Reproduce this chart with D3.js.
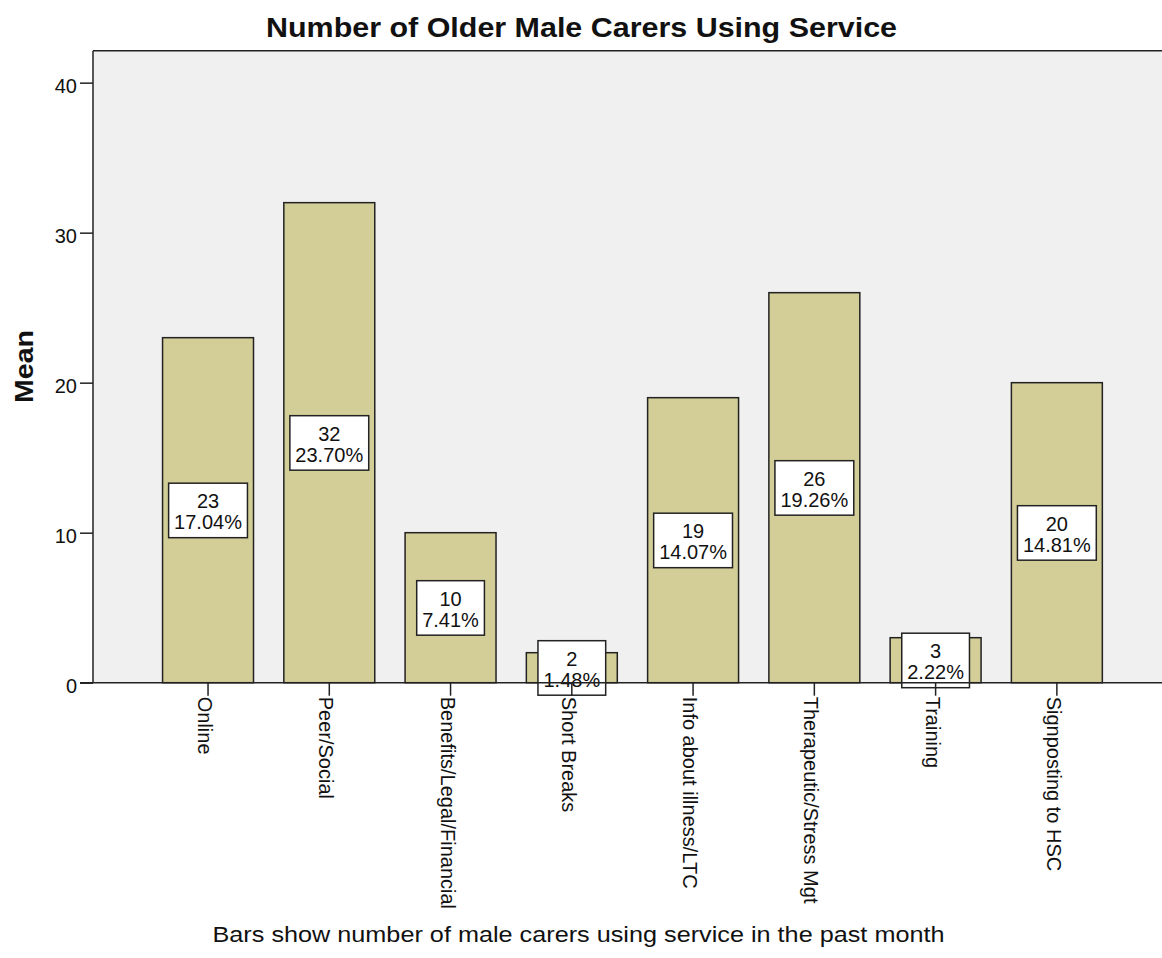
<!DOCTYPE html>
<html>
<head>
<meta charset="utf-8">
<script src="https://cdn.jsdelivr.net/npm/d3@7"></script>
<style>
  html, body { margin: 0; padding: 0; background: #ffffff; }
  svg { display: block; }
  text { font-family: "Liberation Sans", Arial, sans-serif; fill: #111; }
</style>
</head>
<body>
<svg id="chart" width="1162" height="958"></svg>
<script>
// ---- Data ----
const categories = ["Online", "Peer/Social", "Benefits/Legal/Financial", "Short Breaks",
  "Info about illness/LTC", "Therapeutic/Stress Mgt", "Training", "Signposting to HSC"];
const counts = [23, 32, 10, 2, 19, 26, 3, 20];
const yTicks = [0, 10, 20, 30, 40];
const titleText = "Number of Older Male Carers Using Service";
const yLabelText = "Mean";
const captionText = "Bars show number of male carers using service in the past month";

// ---- Layout ----
const svg = d3.select("#chart");
const plotLeft = 93, plotTop = 50.7, plotRight = 1163, plotBottom = 682.7;

const y = d3.scaleLinear().domain([0, 42.13]).range([plotBottom, plotTop]);
const x = d3.scaleBand().domain(categories).range([147.4, 1117.5])
  .paddingInner(0.25).paddingOuter(0.125);

const total = d3.sum(counts);
const data = categories.map((c, i) => ({ cat: c, v: counts[i], pct: (counts[i] / total * 100).toFixed(2) + "%" }));

// plot background
svg.append("rect").attr("x", plotLeft).attr("y", plotTop)
  .attr("width", plotRight - plotLeft).attr("height", plotBottom - plotTop)
  .attr("fill", "#f0f0f0");

// frame: top and left
svg.append("line").attr("x1", plotLeft).attr("x2", plotRight).attr("y1", plotTop).attr("y2", plotTop)
  .attr("stroke", "#222").attr("stroke-width", 1.5);
svg.append("line").attr("x1", plotLeft).attr("x2", plotLeft).attr("y1", plotTop).attr("y2", plotBottom)
  .attr("stroke", "#222").attr("stroke-width", 1.5);

// bars
svg.append("g").selectAll("rect").data(data).join("rect")
  .attr("x", d => x(d.cat)).attr("width", x.bandwidth())
  .attr("y", d => y(d.v)).attr("height", d => y(0) - y(d.v))
  .attr("fill", "#d3ce97").attr("stroke", "#222").attr("stroke-width", 1.5);

// value boxes
const boxG = svg.append("g");
data.forEach(d => {
  const cx = x(d.cat) + x.bandwidth() / 2;
  const cy = y(d.v / 2);
  const g = boxG.append("g");
  const rect = g.append("rect");
  const t1 = g.append("text").attr("x", cx).attr("y", cy - 2).attr("text-anchor", "middle")
    .attr("font-size", 20).text(d.v);
  const t2 = g.append("text").attr("x", cx).attr("y", cy + 19).attr("text-anchor", "middle")
    .attr("font-size", 20).text(d.pct);
  const w = Math.max(t1.node().getComputedTextLength(), t2.node().getComputedTextLength()) + 11;
  rect.attr("x", cx - w / 2).attr("y", cy - 27).attr("width", w).attr("height", 54.5)
    .attr("fill", "#ffffff").attr("stroke", "#222").attr("stroke-width", 1.5);
});

// x axis line (drawn over boxes)
svg.append("line").attr("x1", 80).attr("x2", plotRight).attr("y1", plotBottom).attr("y2", plotBottom)
  .attr("stroke", "#222").attr("stroke-width", 1.5);

// y axis ticks & labels
const yAxis = d3.axisLeft(y).tickValues(yTicks).tickSize(13).tickPadding(3).tickFormat(d3.format("d"));
const gy = svg.append("g").attr("transform", `translate(${plotLeft},0)`).call(yAxis);
gy.select(".domain").remove();
gy.selectAll(".tick line").attr("stroke", "#222").attr("stroke-width", 1.5);
gy.selectAll(".tick text").attr("font-size", 20).attr("font-family", "Liberation Sans, Arial, sans-serif")
  .attr("fill", "#111").attr("dy", null).attr("y", 10);

// x axis ticks & labels
const xAxis = d3.axisBottom(x).tickSize(13).tickSizeOuter(0);
const gx = svg.append("g").attr("transform", `translate(0,${plotBottom})`).call(xAxis);
gx.select(".domain").remove();
gx.selectAll(".tick line").attr("stroke", "#222").attr("stroke-width", 1.5);
gx.selectAll(".tick text")
  .attr("font-size", 20).attr("font-family", "Liberation Sans, Arial, sans-serif").attr("fill", "#111")
  .attr("text-anchor", "start").attr("dy", null)
  .attr("transform", "translate(0,14) rotate(90)")
  .attr("x", 0).attr("y", 10);

// title
svg.append("text").attr("x", 581.5).attr("y", 37).attr("text-anchor", "middle")
  .attr("font-size", 27).attr("font-weight", "bold")
  .attr("textLength", 631).attr("lengthAdjust", "spacingAndGlyphs").text(titleText);

// y label
svg.append("text").attr("transform", "translate(33,366.5) rotate(-90)").attr("text-anchor", "middle")
  .attr("font-size", 26.5).attr("font-weight", "bold")
  .attr("textLength", 73).attr("lengthAdjust", "spacingAndGlyphs").text(yLabelText);

// caption
svg.append("text").attr("x", 578.5).attr("y", 942).attr("text-anchor", "middle")
  .attr("font-size", 22.5)
  .attr("textLength", 732).attr("lengthAdjust", "spacingAndGlyphs").text(captionText);
</script>
</body>
</html>
